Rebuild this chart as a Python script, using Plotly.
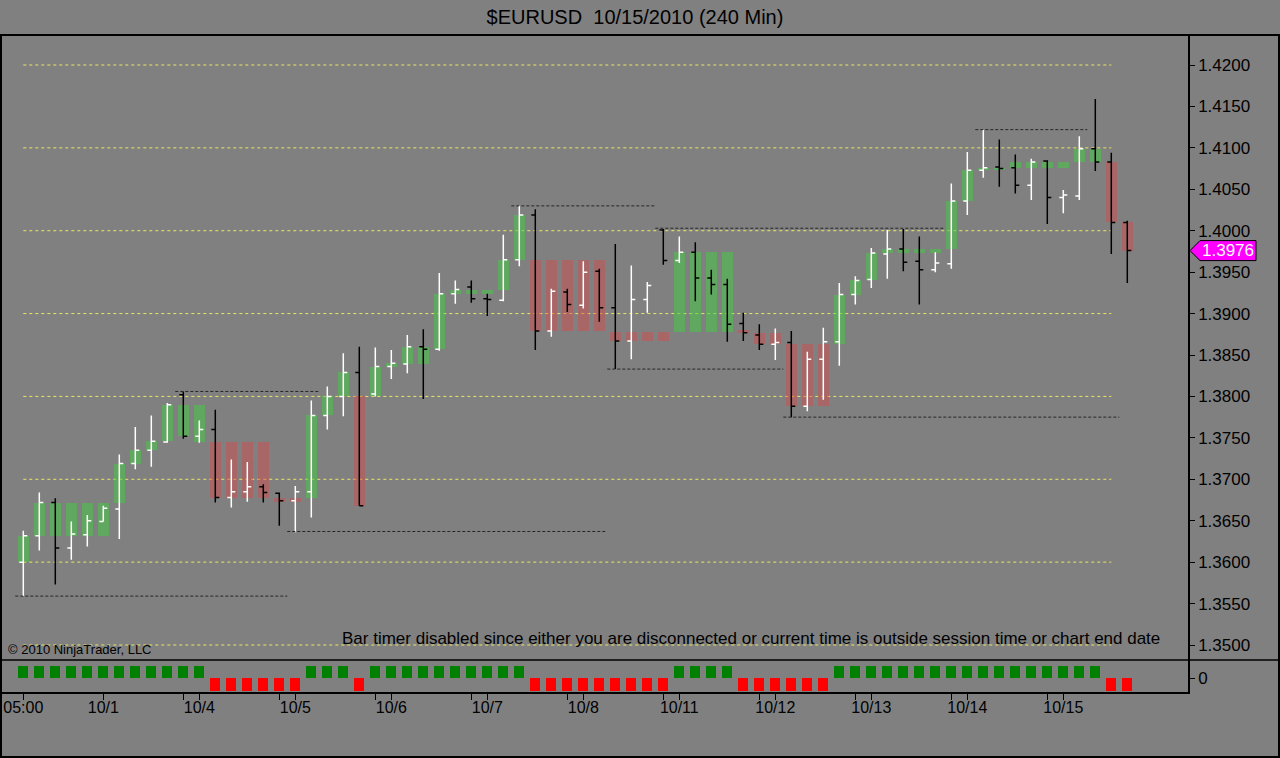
import plotly.graph_objects as go

# ---------------- data ----------------
bar_index = list(range(70))
opens = [1.3600, 1.3632, 1.3672, 1.3617, 1.3633, 1.3649, 1.3664, 1.3719, 1.3735, 1.3745,
         1.3802, 1.3752, 1.3760, 1.3678, 1.3685, 1.3691, 1.3683, 1.3674, 1.3685, 1.3777,
         1.3800, 1.3829, 1.3803, 1.3836, 1.3839, 1.3860, 1.3857, 1.3924, 1.3932, 1.3918,
         1.3916, 1.3965, 1.4019, 1.3879, 1.3926, 1.3910, 1.3951, 1.3907, 1.3867, 1.3917,
         1.4001, 1.3964, 1.3974, 1.3943, 1.3935, 1.3888, 1.3874, 1.3863, 1.3865, 1.3788,
         1.3845, 1.3866, 1.3923, 1.3941, 1.3972, 1.3978, 1.3963, 1.3953, 1.3960, 1.4036,
         1.4073, 1.4077, 1.4076, 1.4055, 1.4084, 1.4040, 1.4042, 1.4099, 1.4083, 1.4010]
highs = [1.3638, 1.3684, 1.3677, 1.3649, 1.3657, 1.3668, 1.3730, 1.3763, 1.3777, 1.3792,
         1.3806, 1.3771, 1.3784, 1.3724, 1.3721, 1.3694, 1.3684, 1.3692, 1.3795, 1.3812,
         1.3852, 1.3860, 1.3859, 1.3856, 1.3874, 1.3881, 1.3949, 1.3940, 1.3940, 1.3924,
         1.3995, 1.4030, 1.4026, 1.3930, 1.3930, 1.3963, 1.3954, 1.3984, 1.3958, 1.3938,
         1.4002, 1.3993, 1.3986, 1.3953, 1.3942, 1.3901, 1.3887, 1.3882, 1.3879, 1.3854,
         1.3883, 1.3937, 1.3945, 1.3979, 1.4001, 1.4002, 1.3993, 1.3974, 1.4057, 1.4095,
         1.4122, 1.4110, 1.4092, 1.4087, 1.4085, 1.4049, 1.4114, 1.4159, 1.4094, 1.4012]
lows = [1.3559, 1.3614, 1.3573, 1.3603, 1.3619, 1.3649, 1.3628, 1.3712, 1.3715, 1.3744,
        1.3749, 1.3744, 1.3672, 1.3666, 1.3673, 1.3672, 1.3644, 1.3636, 1.3654, 1.3760,
        1.3776, 1.3668, 1.3800, 1.3821, 1.3828, 1.3797, 1.3855, 1.3912, 1.3913, 1.3897,
        1.3915, 1.3957, 1.3856, 1.3872, 1.3902, 1.3906, 1.3890, 1.3833, 1.3845, 1.3901,
        1.3959, 1.3961, 1.3915, 1.3923, 1.3866, 1.3867, 1.3856, 1.3844, 1.3775, 1.3782,
        1.3796, 1.3837, 1.3911, 1.3931, 1.3942, 1.3951, 1.3911, 1.3950, 1.3954, 1.4019,
        1.4064, 1.4053, 1.4045, 1.4037, 1.4008, 1.4021, 1.4037, 1.4072, 1.3972, 1.3937]
closes = [1.3632, 1.3672, 1.3617, 1.3634, 1.3650, 1.3665, 1.3719, 1.3735, 1.3746, 1.3790,
          1.3752, 1.3760, 1.3678, 1.3685, 1.3691, 1.3684, 1.3674, 1.3685, 1.3777, 1.3800,
          1.3829, 1.3668, 1.3836, 1.3840, 1.3860, 1.3857, 1.3924, 1.3929, 1.3918, 1.3917,
          1.3965, 1.4019, 1.3879, 1.3927, 1.3911, 1.3950, 1.3907, 1.3867, 1.3917, 1.3934,
          1.3964, 1.3974, 1.3943, 1.3935, 1.3887, 1.3877, 1.3863, 1.3865, 1.3788, 1.3845,
          1.3866, 1.3923, 1.3940, 1.3973, 1.3978, 1.3962, 1.3953, 1.3961, 1.4036, 1.4073,
          1.4076, 1.4075, 1.4055, 1.4083, 1.4040, 1.4043, 1.4099, 1.4083, 1.4010, 1.3976]

# trend boxes (lower / upper edge of the shaded block on each bar)
box_low = [1.3600, 1.3631, 1.3631, 1.3631, 1.3631, 1.3631, 1.3671, 1.3719, 1.3735, 1.3746,
           1.3752, 1.3745, 1.3678, 1.3678, 1.3678, 1.3678, 1.3673, 1.3673, 1.3677, 1.3777,
           1.3800, 1.3668, 1.3800, 1.3836, 1.3839, 1.3839, 1.3857, 1.3924, 1.3924, 1.3924,
           1.3928, 1.3965, 1.3879, 1.3879, 1.3879, 1.3879, 1.3879, 1.3867, 1.3867, 1.3867,
           1.3867, 1.3878, 1.3878, 1.3878, 1.3878, 1.3876, 1.3863, 1.3863, 1.3788, 1.3788,
           1.3788, 1.3863, 1.3923, 1.3940, 1.3973, 1.3973, 1.3973, 1.3973, 1.3978, 1.4036,
           1.4073, 1.4073, 1.4076, 1.4076, 1.4076, 1.4076, 1.4083, 1.4083, 1.4010, 1.3976]
box_high = [1.3632, 1.3671, 1.3671, 1.3671, 1.3671, 1.3671, 1.3718, 1.3735, 1.3746, 1.3790,
            1.3790, 1.3790, 1.3745, 1.3745, 1.3745, 1.3745, 1.3677, 1.3677, 1.3777, 1.3800,
            1.3829, 1.3800, 1.3836, 1.3840, 1.3860, 1.3860, 1.3924, 1.3929, 1.3929, 1.3929,
            1.3965, 1.4019, 1.3965, 1.3965, 1.3965, 1.3965, 1.3965, 1.3878, 1.3878, 1.3878,
            1.3878, 1.3974, 1.3974, 1.3974, 1.3974, 1.3880, 1.3876, 1.3876, 1.3863, 1.3863,
            1.3863, 1.3923, 1.3940, 1.3973, 1.3978, 1.3978, 1.3978, 1.3978, 1.4036, 1.4073,
            1.4076, 1.4076, 1.4083, 1.4083, 1.4083, 1.4083, 1.4099, 1.4099, 1.4083, 1.4010]

# trend signal (+1 up / -1 down) shown in the lower panel
signal = [1] * 12 + [-1] * 6 + [1] * 3 + [-1] * 1 + [1] * 10 + [-1] * 9 + [1] * 4 + [-1] * 6 + [1] * 17 + [-1] * 2

# horizontal support / resistance levels: price, first bar, last bar
level_price = [1.3559, 1.3806, 1.3637, 1.4030, 1.3833, 1.4003, 1.3775, 1.4122]
level_from = [-0.5, 9.5, 16.5, 30.5, 36.5, 39.5, 47.5, 59.5]
level_to = [16.5, 18.5, 36.5, 39.5, 47.5, 57.5, 68.5, 66.5]

grid_levels = [1.35, 1.36, 1.37, 1.38, 1.39, 1.40, 1.41, 1.42]

tick_pos = [0, 5, 11, 17, 23, 29, 35, 41, 47, 53, 59, 65]
tick_text = ["05:00", "10/1", "10/4", "10/5", "10/6", "10/7", "10/8", "10/11", "10/12", "10/13", "10/14", "10/15"]
minor_tick_pos = [10, 16, 22, 28, 34, 40, 46, 52, 58, 64]

# ---------------- figure ----------------
BG = "#808080"
FONT = "Liberation Sans, Arial, sans-serif"
GREEN_BOX = "rgba(70,200,70,0.55)"
RED_BOX = "rgba(220,70,70,0.45)"

W, H = 1280, 758
L, R, T, B = 2, 92, 35, 66
plot_w = W - L - R
plot_h = H - T - B
split = (692 - 660) / plot_h


def px_x(px):
    return (px - L) / plot_w


def px_y(py):
    return (H - B - py) / plot_h


fig = go.Figure()

fig.add_trace(go.Bar(
    x=bar_index,
    base=box_low,
    y=[h - l for h, l in zip(box_high, box_low)],
    marker=dict(color=[GREEN_BOX if s > 0 else RED_BOX for s in signal], line=dict(width=0)),
    width=0.7,
    xaxis="x2", yaxis="y",
    hoverinfo="skip",
    showlegend=False,
))

fig.add_trace(go.Ohlc(
    x=bar_index, open=opens, high=highs, low=lows, close=closes,
    increasing=dict(line=dict(color="white", width=1.5)),
    decreasing=dict(line=dict(color="black", width=1.5)),
    tickwidth=0.25,
    xaxis="x2", yaxis="y",
    showlegend=False,
))

fig.add_trace(go.Bar(
    x=bar_index, y=signal,
    marker=dict(color=["#008000" if s > 0 else "#ff0000" for s in signal], line=dict(width=0)),
    width=0.62,
    xaxis="x", yaxis="y2",
    hoverinfo="skip",
    showlegend=False,
))

x_range = [(L - 23.3) / 16.0, (W - R - 23.3) / 16.0]
y_top = 1.42 + 30 / 8286
y_bot = 1.35 - 15 / 8286

shapes = []
for g in grid_levels:
    shapes.append(dict(type="line", xref="x2", yref="y", x0=0, x1=68, y0=g, y1=g,
                       line=dict(color="#e8e860", width=1, dash="dot"), layer="below"))
for p, a, b in zip(level_price, level_from, level_to):
    shapes.append(dict(type="line", xref="x2", yref="y", x0=a, x1=b, y0=p, y1=p,
                       line=dict(color="#262626", width=1, dash="3px,2px")))

# frame lines
shapes += [
    dict(type="line", xref="paper", yref="paper", x0=px_x(0), x1=px_x(W), y0=px_y(35), y1=px_y(35),
         line=dict(color="black", width=2)),
    dict(type="line", xref="paper", yref="paper", x0=px_x(0), x1=px_x(W), y0=px_y(660), y1=px_y(660),
         line=dict(color="black", width=1.5)),
    dict(type="line", xref="paper", yref="paper", x0=px_x(0), x1=px_x(W), y0=px_y(757), y1=px_y(757),
         line=dict(color="black", width=2)),
    dict(type="line", xref="paper", yref="paper", x0=px_x(1), x1=px_x(1), y0=px_y(35), y1=px_y(757),
         line=dict(color="black", width=2)),
    dict(type="line", xref="paper", yref="paper", x0=px_x(1279), x1=px_x(1279), y0=px_y(35), y1=px_y(757),
         line=dict(color="black", width=2)),
]

last_close = closes[-1]
shapes.append(dict(type="path", xref="paper", yref="y", xsizemode="pixel", ysizemode="pixel",
                   xanchor=1.0, yanchor=last_close,
                   path="M 2 0 L 12 10 L 68 10 L 68 -10 L 12 -10 Z",
                   fillcolor="#ff00ff", line=dict(color="black", width=1)))

annotations = [
    dict(xref="paper", yref="y", x=1.0, y=last_close, xshift=40, text=f"{last_close:.4f}",
         showarrow=False, font=dict(family=FONT, size=17, color="white"), xanchor="center", yanchor="middle"),
    dict(xref="paper", yref="paper", x=px_x(1162), y=px_y(638), text="Bar timer disabled since either you are disconnected or current time is outside session time or chart end date",
         showarrow=False, xanchor="right", yanchor="middle", font=dict(family=FONT, size=17, color="black")),
    dict(xref="paper", yref="paper", x=px_x(6), y=px_y(649), text="© 2010 NinjaTrader, LLC",
         showarrow=False, xanchor="left", yanchor="middle", font=dict(family=FONT, size=13, color="black")),
]

fig.update_layout(
    width=W, height=H,
    margin=dict(l=L, r=R, t=T, b=B),
    paper_bgcolor=BG, plot_bgcolor=BG,
    font=dict(family=FONT, size=16, color="black"),
    title=dict(text="$EURUSD\u00a0\u00a010/15/2010 (240 Min)", x=635 / W, xanchor="center",
               y=1 - 17 / H, yanchor="middle", font=dict(family=FONT, size=20, color="black")),
    showlegend=False,
    barmode="overlay",
    bargap=0,
    xaxis=dict(domain=[0, 1], anchor="y2", range=x_range, showgrid=False, zeroline=False,
               showline=True, linecolor="black", linewidth=1.5,
               tickmode="array", tickvals=tick_pos, ticktext=tick_text,
               ticks="outside", ticklen=6, tickcolor="black", tickwidth=1,
               ticklabelstandoff=-6,
               tickfont=dict(family=FONT, size=16, color="black"),
               minor=dict(tickmode="array", tickvals=minor_tick_pos, ticks="outside", ticklen=6,
                          tickcolor="black", tickwidth=1, showgrid=False)),
    xaxis2=dict(domain=[0, 1], anchor="y", matches="x", range=x_range, showgrid=False, zeroline=False,
                showticklabels=False, showline=False, rangeslider=dict(visible=False)),
    yaxis=dict(domain=[split, 1], anchor="x2", side="right", range=[y_bot, y_top],
               showgrid=False, zeroline=False, showline=True, linecolor="black", linewidth=1.5,
               tickmode="linear", tick0=1.35, dtick=0.005, tickformat=".4f",
               ticks="outside", ticklen=5, tickcolor="black",
               tickfont=dict(family=FONT, size=17, color="black")),
    yaxis2=dict(domain=[0, split], anchor="x", side="right", range=[-1.12, 1.44],
                showgrid=False, zeroline=False, showline=True, linecolor="black", linewidth=1.5,
                tickmode="array", tickvals=[0], ticktext=["0"],
                ticks="outside", ticklen=5, tickcolor="black",
                tickfont=dict(family=FONT, size=17, color="black")),
    shapes=shapes,
    annotations=annotations,
)

fig.write_html("out.html", config={"displayModeBar": False},
               post_script="document.body.style.margin='0';document.body.style.background='#808080';")
